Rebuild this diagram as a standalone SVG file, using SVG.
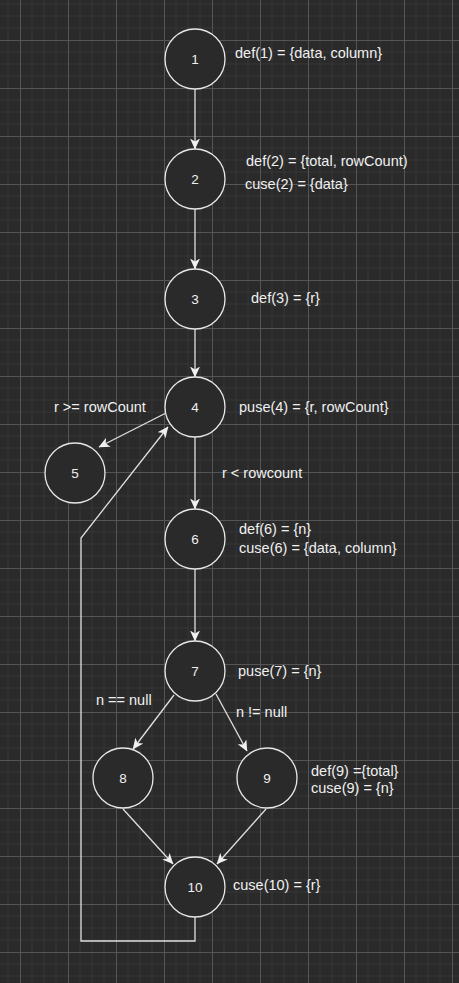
<svg xmlns="http://www.w3.org/2000/svg" width="459" height="983" viewBox="0 0 459 983">
<defs>
<pattern id="grid" x="20" y="40" width="48" height="48" patternUnits="userSpaceOnUse">
<path d="M12,0 V48 M24,0 V48 M36,0 V48 M0,12 H48 M0,24 H48 M0,36 H48" stroke="#353535" stroke-width="1" fill="none"/>
<path d="M0.5,0 V48 M0,0.5 H48" stroke="#555555" stroke-width="1" fill="none"/>
</pattern>
<marker id="arr" viewBox="0 0 11 10" refX="10.5" refY="5" markerWidth="11" markerHeight="10" markerUnits="userSpaceOnUse" orient="auto">
<path d="M0,0 L11,5 L0,10 L3,5 Z" fill="#f0f0f0"/>
</marker>
<style>
.node circle{fill:#2a2a2a;stroke:#e8e8e8;stroke-width:1.3}
.num{font-family:"Liberation Sans",Arial,sans-serif;font-size:13.5px;fill:#f0f0f0;text-anchor:middle}
.lbl{font-family:"Liberation Sans",Arial,sans-serif;font-size:14.5px;fill:#f0f0f0}
.edges path{fill:none;stroke:#e0e0e0;stroke-width:1.3;marker-end:url(#arr)}
</style>
</defs>
<rect width="459" height="983" fill="#2a2a2a"/>
<rect width="459" height="983" fill="url(#grid)"/>
<g class="edges" id="connectors">
<path d="M195,89 V149"/>
<path d="M195,209 V269"/>
<path d="M195,329 V377"/>
<path d="M195,437 V509"/>
<path d="M195,569 V641"/>
<path d="M166,413 L99,447"/>
<path d="M195,917 V941 H81 V538 L168,427"/>
<path d="M174,695 L133,749"/>
<path d="M216,694 L247,751"/>
<path d="M123,809 L173,864"/>
<path d="M266,809 L217,864"/>
</g>
<g id="node1" class="node"><circle cx="195" cy="59" r="30"/><text class="num" x="195" y="64">1</text></g>
<g id="node2" class="node"><circle cx="195" cy="179" r="30"/><text class="num" x="195" y="184">2</text></g>
<g id="node3" class="node"><circle cx="195" cy="299" r="30"/><text class="num" x="195" y="304">3</text></g>
<g id="node4" class="node"><circle cx="195" cy="407" r="30"/><text class="num" x="195" y="412">4</text></g>
<g id="node5" class="node"><circle cx="75" cy="473" r="30"/><text class="num" x="75" y="478">5</text></g>
<g id="node6" class="node"><circle cx="195" cy="539" r="30"/><text class="num" x="195" y="544">6</text></g>
<g id="node7" class="node"><circle cx="195" cy="671" r="30"/><text class="num" x="195" y="676">7</text></g>
<g id="node8" class="node"><circle cx="123" cy="778" r="30"/><text class="num" x="123" y="783">8</text></g>
<g id="node9" class="node"><circle cx="267" cy="778" r="30"/><text class="num" x="267" y="783">9</text></g>
<g id="node10" class="node"><circle cx="195" cy="887" r="30"/><text class="num" x="195" y="892">10</text></g>
<g id="labels">
<text class="lbl" x="235" y="58">def(1) = {data, column}</text>
<text class="lbl" x="246" y="166">def(2) = {total, rowCount)</text>
<text class="lbl" x="245" y="189">cuse(2) = {data}</text>
<text class="lbl" x="251" y="303">def(3) = {r}</text>
<text class="lbl" x="54" y="412">r &gt;= rowCount</text>
<text class="lbl" x="239" y="412">puse(4) = {r, rowCount}</text>
<text class="lbl" x="222" y="478">r &lt; rowcount</text>
<text class="lbl" x="239" y="534">def(6) = {n}</text>
<text class="lbl" x="239" y="553">cuse(6) = {data, column}</text>
<text class="lbl" x="238" y="676">puse(7) = {n}</text>
<text class="lbl" x="96" y="705">n == null</text>
<text class="lbl" x="236" y="717">n != null</text>
<text class="lbl" x="311" y="776">def(9) ={total}</text>
<text class="lbl" x="311" y="793">cuse(9) = {n}</text>
<text class="lbl" x="233" y="890">cuse(10) = {r}</text>
</g>
</svg>
